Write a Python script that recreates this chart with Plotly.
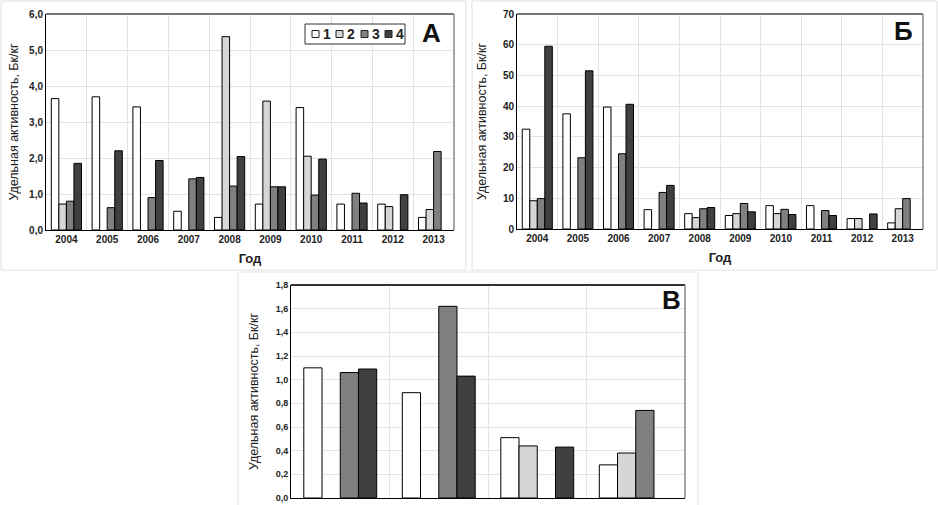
import plotly.graph_objects as go

W, H = 938, 505

years = ["2004", "2005", "2006", "2007", "2008", "2009", "2010", "2011", "2012", "2013"]
series_names = ["1", "2", "3", "4"]

# Panel А (Бк/кг)
a_s1 = [3.65, 3.70, 3.42, 0.52, 0.35, 0.72, 3.40, 0.72, 0.72, 0.35]
a_s2 = [0.72, None, None, None, 5.37, 3.58, 2.05, None, 0.65, 0.57]
a_s3 = [0.80, 0.62, 0.90, 1.42, 1.22, 1.20, 0.97, 1.02, None, 2.18]
a_s4 = [1.85, 2.20, 1.93, 1.46, 2.04, 1.20, 1.97, 0.75, 0.98, None]

# Panel Б (Бк/кг)
b_s1 = [32.5, 37.5, 39.7, 6.3, 5.0, 4.4, 7.6, 7.6, 3.4, 2.0]
b_s2 = [9.2, None, None, None, 3.7, 5.0, 5.0, None, 3.4, 6.6]
b_s3 = [9.9, 23.2, 24.5, 11.9, 6.6, 8.3, 6.4, 6.0, None, 9.9]
b_s4 = [59.5, 51.5, 40.6, 14.2, 7.0, 5.6, 4.7, 4.4, 4.9, None]

# Panel В (Бк/кг)
c_cats = ["I", "II", "III", "IV"]
c_s1 = [1.10, 0.89, 0.51, 0.28]
c_s2 = [None, None, 0.44, 0.38]
c_s3 = [1.06, 1.62, None, 0.74]
c_s4 = [1.09, 1.03, 0.43, None]

colors = ["#ffffff", "#d6d6d6", "#808080", "#404040"]
FONT = "Liberation Sans"
YTITLE = "Удельная активность, Бк/кг"

fig = go.Figure()

panels = [
    ("x", "y", years, [a_s1, a_s2, a_s3, a_s4]),
    ("x2", "y2", years, [b_s1, b_s2, b_s3, b_s4]),
    ("x3", "y3", c_cats, [c_s1, c_s2, c_s3, c_s4]),
]
for xa, ya, cats, data in panels:
    for name, vals, col in zip(series_names, data, colors):
        fig.add_trace(go.Bar(
            x=cats, y=vals, name=name, xaxis=xa, yaxis=ya,
            marker=dict(color=col, line=dict(color="#000000", width=1)),
            showlegend=False,
        ))

def px(v):
    return v / W

def py(v):
    return 1 - v / H

grid = "#e3e3e3"
xcommon = dict(type="category", tickson="boundaries", showgrid=True, gridcolor=grid,
               gridwidth=1, showline=True, linecolor="#000000", linewidth=1,
               ticks="", fixedrange=True, automargin=False)
ycommon = dict(showgrid=True, gridcolor=grid, gridwidth=1, showline=True,
               linecolor="#000000", linewidth=1, ticks="", zeroline=False,
               fixedrange=True, automargin=False)
xtickfont = dict(family=FONT, size=10, color="#222", weight="bold")
ytitlefont = dict(family=FONT, size=12.5, color="#222")

fig.update_layout(
    width=W, height=H,
    margin=dict(l=0, r=0, t=0, b=0, pad=0, autoexpand=False),
    paper_bgcolor="#ffffff", plot_bgcolor="#ffffff",
    barmode="group", bargap=0.26, bargroupgap=0,
    separators=", ",
    font=dict(family=FONT, color="#222"),
    showlegend=False,
    xaxis=dict(domain=[px(46), px(454)], anchor="y", tickfont=xtickfont,
               title=dict(text="Год", font=dict(family=FONT, size=13, weight="bold"), standoff=9),
               **xcommon),
    yaxis=dict(domain=[py(230), py(14)], anchor="x", range=[0, 6], dtick=1, tickformat=".1f",
               tickfont=dict(family=FONT, size=10, weight="bold"),
               title=dict(text=YTITLE, font=ytitlefont, standoff=7),
               **ycommon),
    xaxis2=dict(domain=[px(517), px(923)], anchor="y2", tickfont=xtickfont,
                title=dict(text="Год", font=dict(family=FONT, size=13, weight="bold"), standoff=9),
                **xcommon),
    yaxis2=dict(domain=[py(229), py(14)], anchor="x2", range=[0, 70], dtick=10,
                tickfont=dict(family=FONT, size=10, weight="bold"),
                title=dict(text=YTITLE, font=ytitlefont, standoff=13),
                **ycommon),
    xaxis3=dict(domain=[px(291), px(685)], anchor="y3", showticklabels=False, **xcommon),
    yaxis3=dict(domain=[py(498), py(285)], anchor="x3", range=[0, 1.8], dtick=0.2, tickformat=".1f",
                tickfont=dict(family=FONT, size=9, weight="bold"),
                title=dict(text=YTITLE, font=ytitlefont, standoff=14),
                **ycommon),
)

shapes = []
# light outer frames around each panel
for x0, y0, x1, y1 in [(1, 1, 466, 270), (472, 1, 937, 270), (238, 272, 698, 510)]:
    shapes.append(dict(type="rect", xref="paper", yref="paper",
                       x0=px(x0), x1=px(x1), y0=py(y1), y1=py(y0),
                       line=dict(color="#e0e0e0", width=1), fillcolor="rgba(0,0,0,0)", layer="below"))
# grey top/right borders of plot areas
for xr, yr, c in [("x", "y", "#777777"), ("x2", "y2", "#777777"), ("x3", "y3", "#333333")]:
    shapes.append(dict(type="line", xref=f"{xr} domain", yref=f"{yr} domain",
                       x0=0, x1=1, y0=1, y1=1, line=dict(color=c, width=2)))
    shapes.append(dict(type="line", xref=f"{xr} domain", yref=f"{yr} domain",
                       x0=1, x1=1, y0=0, y1=1, line=dict(color="#888888", width=1.5)))

# compact legend for panel А (box, swatches, labels)
shapes.append(dict(type="rect", xref="paper", yref="paper",
                   x0=px(305), x1=px(405), y0=py(44), y1=py(24),
                   line=dict(color="#333333", width=1), fillcolor="#ffffff"))
legend_x = [312, 336, 361, 385]
for lx, col, name in zip(legend_x, colors, series_names):
    shapes.append(dict(type="rect", xref="paper", yref="paper",
                       x0=px(lx), x1=px(lx + 7), y0=py(37.5), y1=py(30.5),
                       line=dict(color="#222222", width=1), fillcolor=col))
    fig.add_annotation(text=name, xref="paper", yref="paper", x=px(lx + 8.5), y=py(34),
                       xanchor="left", yanchor="middle", showarrow=False,
                       font=dict(family=FONT, size=14, weight="bold", color="#222"))
fig.update_layout(shapes=shapes)

for txt, x, y in [("А", 431, 33), ("Б", 903, 31), ("В", 671, 300)]:
    fig.add_annotation(text=txt, xref="paper", yref="paper", x=px(x), y=py(y),
                       xanchor="center", yanchor="middle", showarrow=False,
                       font=dict(family=FONT, size=26, weight="bold", color="#111"))

fig.write_html("out.html", config={"displayModeBar": False, "staticPlot": True},
               post_script="document.body.style.margin='0px';document.body.style.padding='0px';")
